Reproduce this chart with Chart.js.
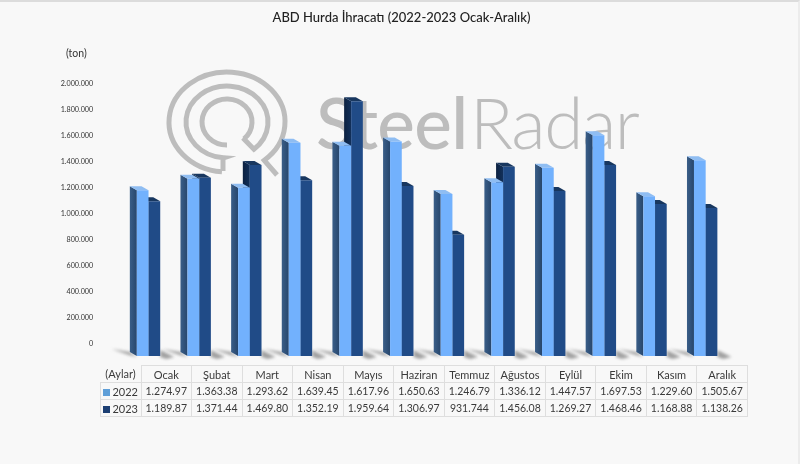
<!DOCTYPE html>
<html>
<head>
<meta charset="utf-8">
<script src="https://cdn.jsdelivr.net/npm/chart.js@4"></script>
<style>
html, body { margin: 0; padding: 0; background: #f8f8f8; }
#wrap { position: relative; width: 800px; height: 464px; overflow: hidden; }
#wrap:after { content: ""; position: absolute; left: 0; top: 0; right: 0; bottom: 0; border-top: 2px solid #dcdcdc; border-right: 2px solid #ececec; pointer-events: none; }
canvas { position: absolute; left: 0; top: 0; }
#title { position: absolute; left: 0; width: 803px; top: 9px; text-align: center; font: 500 13px Lato, sans-serif; color: #222; }
#unit { position: absolute; left: 66px; top: 47px; font: 10.5px Lato, sans-serif; color: #333; }
table { position: absolute; left: 100px; top: 365px; width: 648px; table-layout: fixed; border-collapse: collapse; font: 10.5px Lato, sans-serif; color: #3a3a3a; }
td { border: 1px solid #dedede; text-align: center; padding: 0; height: 16px; white-space: nowrap; }
td.first { width: 40px; font-size: 11px; }
td.corner { border-top: 0; border-left: 0; }
td.head { font-size: 11px; }
.key { display: inline-block; width: 7px; height: 7px; margin-right: 2px; }
</style>
</head>
<body>
<div id="wrap">
  <canvas id="chart" width="800" height="464"></canvas>
  <div id="title">ABD Hurda İhracatı (2022-2023 Ocak-Aralık)</div>
  <div id="unit">(ton)</div>
  <table id="dataTable"></table>
</div>
<script>
const months = ["Ocak", "Şubat", "Mart", "Nisan", "Mayıs", "Haziran", "Temmuz", "Ağustos", "Eylül", "Ekim", "Kasım", "Aralık"]
const values2022 = [1274970, 1363380, 1293620, 1639450, 1617960, 1650630, 1246790, 1336120, 1447570, 1697530, 1229600, 1505670]
const values2023 = [1189870, 1371440, 1469800, 1352190, 1959640, 1306970, 931744, 1456080, 1269270, 1468460, 1168880, 1138260]
const cells2022 = ["1.274.97", "1.363.38", "1.293.62", "1.639.45", "1.617.96", "1.650.63", "1.246.79", "1.336.12", "1.447.57", "1.697.53", "1.229.60", "1.505.67"]
const cells2023 = ["1.189.87", "1.371.44", "1.469.80", "1.352.19", "1.959.64", "1.306.97", "931.744", "1.456.08", "1.269.27", "1.468.46", "1.168.88", "1.138.26"]
const tickLabels = ["0", "200.000", "400.000", "600.000", "800.000", "1.000.000", "1.200.000", "1.400.000", "1.600.000", "1.800.000", "2.000.000"]

// colors of the 3d faces
const faces = [
    { front: "#72b1fd", sideA: "#3a5e88", sideB: "#27466c", top: "#8fbdf2" },
    { front: "#204b87", sideA: "#0c2140", sideB: "#12305a", top: "#18375f" }
]
const depthX = 7
const depthY = 4

// table under the chart
function buildTable() {
    let rows = '<tr><td class="first corner">(Aylar)</td>'
    months.forEach(m => { rows += '<td class="head">' + m + '</td>' })
    rows += '</tr>'
    let addRow = (name, cells, color) => {
        rows += '<tr><td class="first"><span class="key" style="background:' + color + '"></span>' + name + '</td>'
        cells.forEach(c => { rows += '<td>' + c + '</td>' })
        rows += '</tr>'
    }
    addRow("2022", cells2022, "#5f9fd8")
    addRow("2023", cells2023, "#1c3f73")
    document.getElementById("dataTable").innerHTML = rows
}
buildTable()

function polygon(ctx, pts, fill) {
    ctx.beginPath()
    ctx.moveTo(pts[0][0], pts[0][1])
    pts.slice(1).forEach(p => ctx.lineTo(p[0], p[1]))
    ctx.closePath()
    ctx.fillStyle = fill
    ctx.fill()
}

// logo and name behind the bars
const watermark = {
    id: "watermark",
    beforeDatasetsDraw(chart) {
        let ctx = chart.ctx
        const rad = Math.PI / 180
        ctx.save()
        ctx.strokeStyle = "#bdbdbd"
        ctx.lineWidth = 5
        ctx.beginPath()
        ctx.ellipse(227, 122, 58, 50, 0, 95 * rad, 410 * rad)
        ctx.lineTo(277, 175)
        ctx.stroke()
        ctx.beginPath()
        ctx.moveTo(223, 171)
        ctx.lineTo(223, 158)
        ctx.ellipse(227, 122, 41, 36, 0, 95 * rad, 409 * rad)
        ctx.lineTo(243, 138)
        ctx.ellipse(227, 122, 25, 23, 0, 47 * rad, -270 * rad, true)
        ctx.stroke()

        ctx.fillStyle = "#bdbdbd"
        ctx.textBaseline = "alphabetic"
        ctx.textAlign = "left"
        ctx.font = "500 71px Lato"
        ctx.letterSpacing = "-0.6px"
        ctx.fillText("Steel", 316, 149)
        ctx.font = "300 71px Lato"
        ctx.letterSpacing = "-1.4px"
        ctx.fillText("Radar", 470, 149)
        ctx.restore()

        // floor shadows
        let meta = chart.getDatasetMeta(0)
        let other = chart.getDatasetMeta(1)
        ctx.save()
        ctx.filter = "blur(1.5px)"
        meta.data.forEach((bar, i) => {
            let x0 = bar.x - bar.width / 2
            let x1 = other.data[i].x + other.data[i].width / 2
            let base = bar.base
            polygon(ctx, [[x0 - 25, base - 7], [x0 - 7, base - 4], [x0, base + 1], [x0 - 8, base - 1]], "#a0a0a0")
            polygon(ctx, [[x1, base - 6], [x1 + 14, base + 1], [x1 + 6, base + 3], [x1, base + 1]], "#a0a0a0")
        })
        ctx.restore()
    }
}

// side and top faces, the library draws the front one on top of them
const depthFaces = {
    id: "depthFaces",
    beforeDatasetDraw(chart, args) {
        let ctx = chart.ctx
        let style = faces[args.index]
        ctx.save()
        args.meta.data.forEach(bar => {
            let x0 = bar.x - bar.width / 2
            let x1 = bar.x + bar.width / 2
            let side = ctx.createLinearGradient(x0 - depthX, 0, x0, 0)
            side.addColorStop(0, style.sideA)
            side.addColorStop(1, style.sideB)
            polygon(ctx, [[x0, bar.base], [x0 - depthX, bar.base - depthY], [x0 - depthX, bar.y - depthY], [x0, bar.y]], side)
            polygon(ctx, [[x0, bar.y], [x1, bar.y], [x1 - depthX, bar.y - depthY], [x0 - depthX, bar.y - depthY]], style.top)
        })
        ctx.restore()
    }
}

new Chart(document.getElementById("chart").getContext("2d"), {
    type: "bar",
    data: {
        labels: months,
        datasets: [
            { label: "2022", data: values2022, backgroundColor: faces[0].front, barPercentage: 1, categoryPercentage: 0.462 },
            { label: "2023", data: values2023, backgroundColor: faces[1].front, barPercentage: 1, categoryPercentage: 0.462 }
        ]
    },
    plugins: [watermark, depthFaces],
    options: {
        responsive: false,
        animation: false,
        layout: { padding: { left: 0, right: 69, top: 96, bottom: 108 } },
        plugins: {
            legend: { display: false },
            tooltip: { enabled: false }
        },
        scales: {
            x: { display: false },
            y: {
                min: 0,
                max: 2000000,
                grid: { display: false },
                border: { display: false },
                afterFit(scale) { scale.width = 123.2 },
                ticks: {
                    stepSize: 200000,
                    autoSkip: false,
                    padding: 22,
                    labelOffset: -12,
                    color: "#333",
                    font: { family: "Lato", size: 7.2 },
                    callback: (v, i) => tickLabels[i]
                }
            }
        }
    }
})
</script>
</body>
</html>
